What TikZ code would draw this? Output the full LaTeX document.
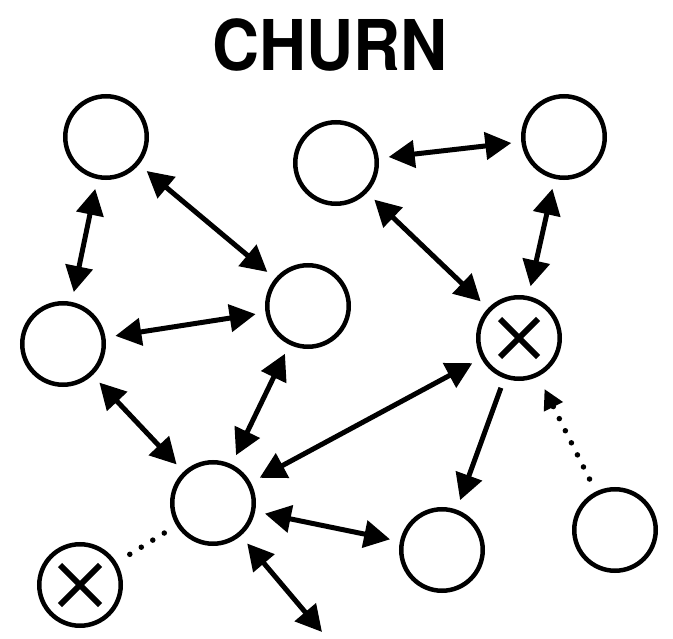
\documentclass[tikz,border=0pt]{standalone}
\usepackage{fontspec}
\setmainfont{TeX Gyre Heros}
\usetikzlibrary{arrows.meta}

\begin{document}
\begin{tikzpicture}[x=1pt, y=-1pt,
        >={Triangle[length=26pt, width=27pt]},
        user/.style={circle, draw, line width=4.5pt, minimum size=81.5pt, inner sep=0pt},
        link/.style={<->, line width=5pt, shorten <=10pt, shorten >=10pt},
        leave/.style={line width=5.5pt, line cap=round, dash pattern=on 0pt off 13.5pt},
        cross/.style={line width=6pt}]
    \useasboundingbox (0, 0) rectangle (673, 639);

    \node[font=\fontsize{70}{70}\selectfont\bfseries, xscale=0.93, transform shape] (title) at (330, 45) {CHURN};

    \node[user] (a) at (106, 137) {};
    \node[user] (b) at (336, 163) {};
    \node[user] (c) at (564, 137) {};
    \node[user] (d) at (63, 344) {};
    \node[user] (e) at (308, 306) {};
    \node[user] (f) at (519, 338) {};
    \node[user] (g) at (213, 503) {};
    \node[user] (h) at (442, 550) {};
    \node[user] (i) at (615, 530) {};
    \node[user] (j) at (80, 585) {};
    \coordinate (out) at (322, 632);

    % churned users
    \draw[cross] ([shift={(-19, -19)}]f.center) -- ([shift={(19, 19)}]f.center);
    \draw[cross] ([shift={(-19, 19)}]f.center) -- ([shift={(19, -19)}]f.center);
    \draw[cross] ([shift={(-20, -20)}]j.center) -- ([shift={(20, 20)}]j.center);
    \draw[cross] ([shift={(-20, 20)}]j.center) -- ([shift={(20, -20)}]j.center);

    \draw[link] (a) -- (d);
    \draw[link] (a) -- (e);
    \draw[link] (d) -- (e);
    \draw[link] (d) -- (g);
    \draw[link] (e) -- (g);
    \draw[link] (b) -- (c);
    \draw[link] (b) -- (f);
    \draw[link] (c) -- (f);
    \draw[link] (g) -- (f);
    \draw[link] (g) -- (h);
    \draw[link, shorten >=0pt] (g) -- (out);
    \draw[link, <-] (h) -- (f);

    \draw[leave, -{Triangle[length=20pt, width=20pt]}, shorten <=14pt, shorten >=14pt] (i) -- (f);
    \draw[leave, shorten <=15.5pt, shorten >=12pt] (j) -- (g);
\end{tikzpicture}
\end{document}
